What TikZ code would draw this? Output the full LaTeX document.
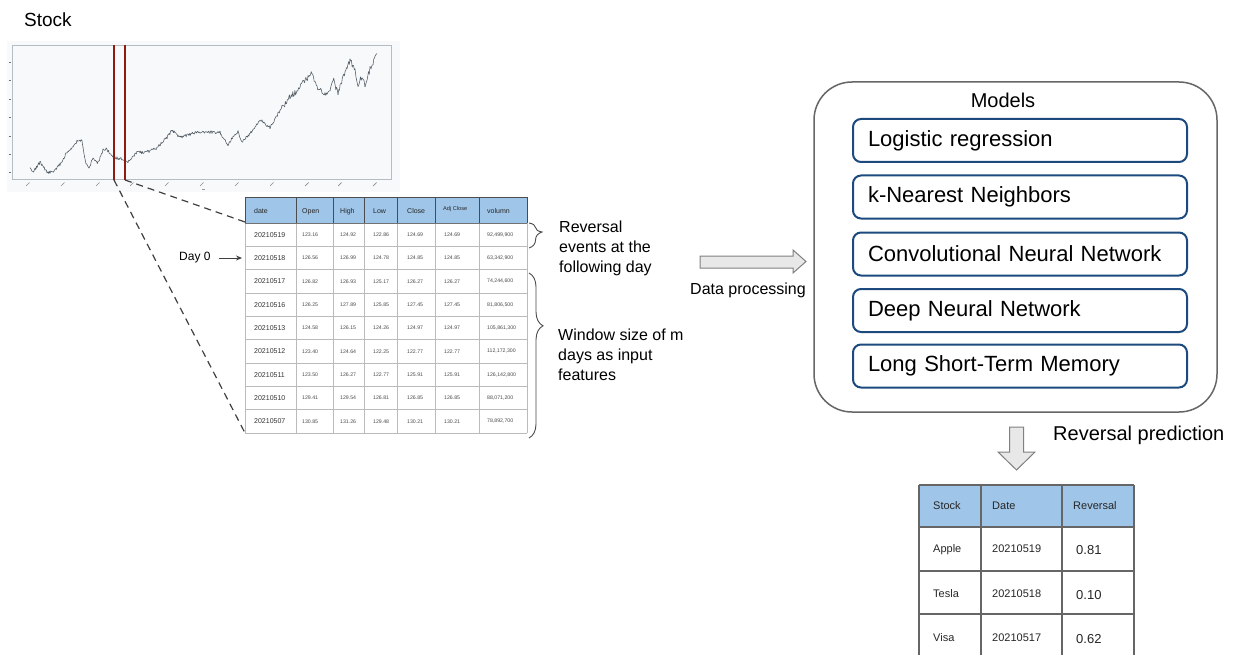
\documentclass[tikz,border=0pt]{standalone}
\usepackage{fontspec}
\setmainfont{Liberation Sans}
\usetikzlibrary{decorations.pathreplacing,arrows.meta}
\definecolor{hdrblue}{HTML}{9FC5E8}
\definecolor{boxblue}{HTML}{1C4A7E}
\definecolor{chartbg}{HTML}{F7F9FA}
\definecolor{framegray}{HTML}{B4BCC4}
\definecolor{pricegray}{HTML}{4F5A63}
\definecolor{darkred}{HTML}{8E1B10}
\definecolor{lightline}{HTML}{BBBBBB}
\definecolor{arrowfill}{HTML}{E8E8E8}
\newcommand\thsep{,}
\tikzset{
  txt/.style={inner sep=0pt, text=black},
  priceline/.style={draw=pricegray, line width=0.55pt, line join=round, line cap=round},
  redline/.style={draw=darkred, line width=1.6pt},
  zoomline/.style={draw=black!75, line width=1.2pt, dash pattern=on 7pt off 5pt},
  hdrcell/.style={inner sep=0pt, anchor=base west, font=\fontsize{7}{8}\selectfont, text=black!85},
  datecell/.style={inner sep=0pt, anchor=west, font=\fontsize{7}{8}\selectfont, text=black!80},
  numcell/.style={inner sep=0pt, anchor=west, font=\fontsize{5.2}{6}\selectfont, text=black!70},
  bracestyle/.style={draw=black!70, line width=0.9pt, decorate},
  modelbox/.style={draw=boxblue, line width=2pt, rounded corners=8pt, minimum width=334pt,
     minimum height=43pt, text width=304pt, inner xsep=15pt, align=left,
     font=\fontsize{22}{26}\selectfont},
  blockarrow/.style={fill=arrowfill, draw=black!50, line width=1pt, line join=miter},
  restext/.style={inner sep=0pt, anchor=base west, font=\fontsize{11}{13}\selectfont, text=black!85},
  resval/.style={inner sep=0pt, anchor=base west, font=\fontsize{13}{15}\selectfont, text=black!85}
}
\begin{document}
\begin{tikzpicture}[x=1pt,y=-1pt]
\useasboundingbox (0,0) rectangle (1238,655);
\fill[white] (0,0) rectangle (1238,655);

% ---------- Stock chart ----------
\node[txt, anchor=base west, font=\fontsize{19}{22}\selectfont] (stocklabel) at (24,27) {Stock};
\fill[chartbg] (7,41) rectangle (400,192);
\draw[framegray, line width=0.8pt] (12,45) rectangle (391,179);
\foreach \yy in {62,80,99,117,136,154,172}
  \draw[black!55, line width=0.7pt] (8.5,\yy) -- (10.5,\yy);
\foreach \xx in {28,63,98,132,167,202,237,272,307,340,375}
  \draw[black!45, line width=0.7pt] (\xx-2,186) -- (\xx+1.5,182.5);
\draw[black!40, line width=0.6pt] (202,189) -- (205,189);
\foreach \px/\py [remember=\px as \lx (initially 30), remember=\py as \ly (initially 168)] in
 {33/172, 40/162, 47/172, 53/172, 62/162, 67/152, 73/147, 77/141, 82/140, 83/148, 86/163,
  89/168, 93/158, 98/163, 103/150, 107/149, 113/157, 125/160, 128/162, 137/152, 143/153,
  157/148, 167/137, 172/130, 180/137, 193/133, 203/132, 210/132, 220/133, 228/145, 233/137,
  238/132, 242/142, 253/130, 260/120, 270/128, 280/110, 290/97, 297/92, 303/82, 308/77,
  312/73, 317/87, 325/95, 330/90, 333/78, 338/93, 343/77, 350/60, 355/70, 358/85, 362/77,
  365/87, 370/68, 373/62, 377/52}
{
  \pgfmathtruncatemacro\ns{max(3,abs(\px-\lx)*1.6)}
  \draw[priceline] plot[domain=\lx:\px, samples=\ns]
    (\x, {\ly+(\py-\ly)*(\x-\lx)/(\px-\lx)
      + (1.9+1.8*(\x>280))*(sin(mod(\x,7.3)*1700)+0.8*sin(mod(\x,4.1)*2900)
        +0.5*sin(mod(\x,11.9)*1230))/2.3});
}
\draw[redline] (114,45) -- (114,180);
\draw[redline] (125,45) -- (125,180);
\coordinate (r1) at (114,180);
\coordinate (r2) at (125,180);

% ---------- Data table ----------
\fill[hdrblue] (245,197) rectangle (527,223);
\foreach \i in {1,...,9}
  \draw[lightline, line width=0.8pt] (245,223+23.33*\i) -- (527,223+23.33*\i);
\foreach \cx in {245,296,333,364,397,435,479,527}
  \draw[lightline, line width=0.8pt] (\cx,223) -- (\cx,433);
\foreach \cx in {245,296,333,364,397,435,479,527}
  \draw[black!70, line width=0.8pt] (\cx,197) -- (\cx,223);
\draw[black!70, line width=0.8pt] (245,197) -- (527,197);
\draw[black!55, line width=0.8pt] (245,223) -- (527,223);
\coordinate (tblhl) at (245,222);
\coordinate (tblbl) at (245,433);

\node[hdrcell] (h1) at (254,213) {date};
\node[hdrcell] (h2) at (302,213) {Open};
\node[hdrcell] (h3) at (340,213) {High};
\node[hdrcell] (h4) at (373,213) {Low};
\node[hdrcell] (h5) at (407,213) {Close};
\node[hdrcell, font=\fontsize{5.6}{6}\selectfont] (h6) at (443,210) {Adj Close};
\node[hdrcell] (h7) at (487,213) {volumn};

\foreach \d/\a/\b/\c/\e/\f/\g [count=\i] in {
  20210519/123.16/124.92/122.86/124.69/124.69/92\thsep499\thsep900,
  20210518/126.56/126.99/124.78/124.85/124.85/63\thsep342\thsep900,
  20210517/126.82/126.93/125.17/126.27/126.27/74\thsep244\thsep600,
  20210516/126.25/127.89/125.85/127.45/127.45/81\thsep806\thsep500,
  20210513/124.58/126.15/124.26/124.97/124.97/105\thsep861\thsep300,
  20210512/123.40/124.64/122.25/122.77/122.77/112\thsep172\thsep300,
  20210511/123.50/126.27/122.77/125.91/125.91/126\thsep142\thsep800,
  20210510/129.41/129.54/126.81/126.85/126.85/88\thsep071\thsep200,
  20210507/130.85/131.26/129.48/130.21/130.21/78\thsep892\thsep700}
{
  \pgfmathsetmacro\ry{223+23.33*(\i-0.5)}
  \node[datecell] (d\i) at (254,\ry) {\d};
  \node[numcell] (a\i) at (302,\ry) {\a};
  \node[numcell] (b\i) at (340,\ry) {\b};
  \node[numcell] (c\i) at (373,\ry) {\c};
  \node[numcell] (e\i) at (407,\ry) {\e};
  \node[numcell] (f\i) at (444,\ry) {\f};
  \node[numcell] (g\i) at (487,\ry) {\g};
}

% zoom lines
\draw[zoomline] (r1) -- (tblbl);
\draw[zoomline] (r2) -- (tblhl);

% Day 0
\node[txt, anchor=west, font=\fontsize{12}{14}\selectfont] (day0) at (179,258) {Day 0};
\coordinate (day0tip) at (242,258);
\draw[black!75, line width=0.9pt, -{Stealth[length=6pt, width=5pt]}] (day0.east) ++(8,0) -- (day0tip);

% braces
\draw[bracestyle, decoration={brace, amplitude=13pt, aspect=0.36}] (529,223) -- (529,248);
\draw[bracestyle, decoration={brace, amplitude=14pt, aspect=0.32}] (529,273) -- (529,438);
\node[txt, anchor=base west, align=left, font=\fontsize{16}{20}\selectfont] (revtext) at (559,272)
  {Reversal\\events at the\\following day};
\node[txt, anchor=base west, align=left, font=\fontsize{16}{20}\selectfont] (wintext) at (558,380)
  {Window size of m\\days as input\\features};

% data processing arrow
\draw[blockarrow] (700,256) -- (793,256) -- (793,250) -- (806,261.5) -- (793,273)
  -- (793,268) -- (700,268) -- cycle;
\node[txt, font=\fontsize{16}{20}\selectfont] (dproc) at (748,290) {Data processing};

% ---------- Models ----------
\node[draw=black!60, line width=1.5pt, rounded corners=38pt, minimum width=403pt,
  minimum height=330pt] (models) at (1015.5,247) {};
\node[txt, font=\fontsize{20}{24}\selectfont] (modelstitle) at (1003,100) {Models};
\node[modelbox] (m1) at (1020,140.5) {Logistic regression};
\node[modelbox] (m2) at (1020,197) {k-Nearest Neighbors};
\node[modelbox] (m3) at (1020,254) {Convolutional Neural Network};
\node[modelbox] (m4) at (1020,310.5) {Deep Neural Network};
\node[modelbox] (m5) at (1020,366) {Long Short-Term Memory};

% down arrow
\draw[blockarrow] (1009.5,427) -- (1023.5,427) -- (1023.5,452) -- (1035,452) -- (1016.5,470)
  -- (998,452) -- (1009.5,452) -- cycle;
\node[txt, anchor=west, font=\fontsize{20}{24}\selectfont] (revpred) at (1053,435) {Reversal prediction};

% ---------- Result table ----------
\fill[hdrblue] (919,485) rectangle (1134,527);
\foreach \ry in {485,527,571,614}
  \draw[black!60, line width=1.3pt] (919,\ry) -- (1134,\ry);
\foreach \cx in {919,981,1062,1134}
  \draw[black!60, line width=1.3pt] (\cx,485) -- (\cx,655);
\node[restext] (rs) at (933,509) {Stock};
\node[restext] (rd) at (992,509) {Date};
\node[restext] (rr) at (1073,509) {Reversal};
\node[restext] (s1) at (933,552) {Apple};
\node[restext] (t1) at (992,552) {20210519};
\node[resval] (v1) at (1076,554) {0.81};
\node[restext] (s2) at (933,597) {Tesla};
\node[restext] (t2) at (992,597) {20210518};
\node[resval] (v2) at (1076,599) {0.10};
\node[restext] (s3) at (933,641) {Visa};
\node[restext] (t3) at (992,641) {20210517};
\node[resval] (v3) at (1076,643) {0.62};
\end{tikzpicture}
\end{document}
